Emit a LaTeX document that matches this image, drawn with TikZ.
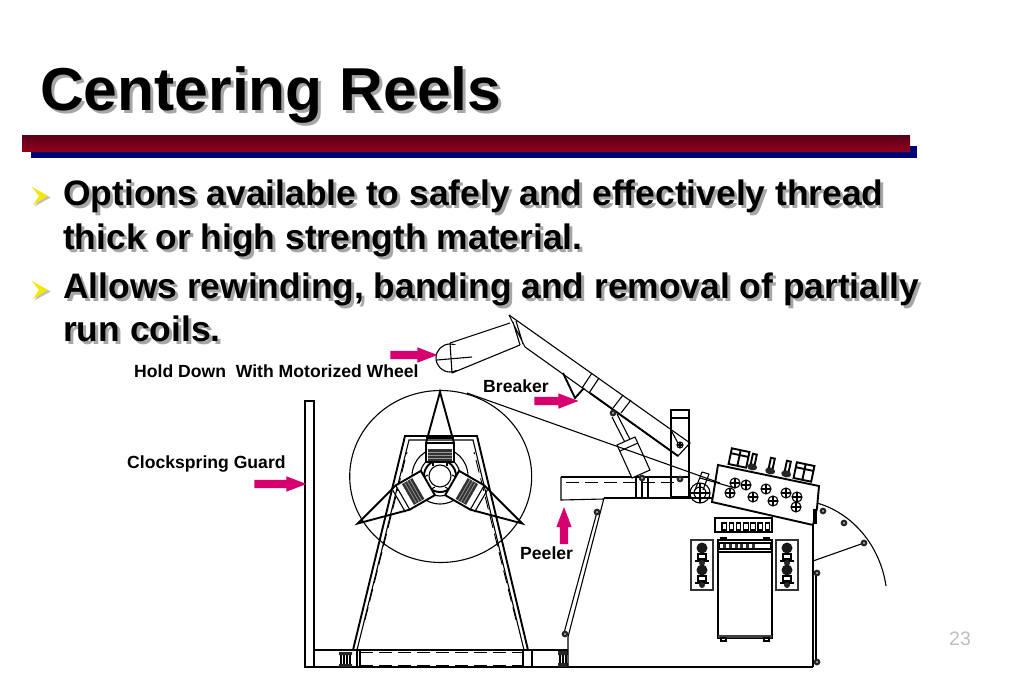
\documentclass[tikz,border=0pt]{standalone}
\usepackage{fontspec}
\setmainfont{Liberation Sans}
\usepackage{xcolor}
\usetikzlibrary{shapes.arrows,calc}
\definecolor{barred}{RGB}{128,0,32}
\definecolor{barnavy}{RGB}{0,0,120}
\definecolor{pinkfill}{RGB}{214,0,110}
\tikzset{
    shadowtext/.style={anchor=base west, inner sep=0pt, text=black!35},
    maintext/.style={anchor=base west, inner sep=0pt, text=black},
    partlabel/.style={anchor=base west, inner sep=0pt, font=\fontsize{17.6}{17.6}\selectfont\bfseries},
    pinkarrow/.style={single arrow, fill=pinkfill, inner sep=0pt, minimum width=15pt,
        single arrow head extend=3.5pt, single arrow tip angle=42},
    line/.style={line width=1.1pt},
    heavy/.style={line width=1.9pt},
    thinline/.style={line width=0.7pt},
    dashline/.style={line width=0.9pt, dash pattern=on 13pt off 6pt}
}
% text with a grey copy behind it
\newcommand{\shadowline}[5]{%
    \node[shadowtext, font=#4] (#1shadow) at ($(#2,#3)+(3,3)$) {#5};
    \node[maintext, font=#4] (#1) at (#2,#3) {#5};
}
\newcommand{\bolt}[3]{%
    \draw[line, fill=white] (#1,#2) circle (#3);
    \draw[line] ($(#1,#2)+(-#3,0)$) -- ($(#1,#2)+(#3,0)$) ($(#1,#2)+(0,-#3)$) -- ($(#1,#2)+(0,#3)$);
}
\newcommand{\darkbolt}[2]{\fill[black!85] (#1,#2) circle (3.4); \fill[white] (#1,#2) circle (0.9);}
\begin{document}
\begin{tikzpicture}[x=1pt,y=-1pt]
    \useasboundingbox (0,0) rectangle (1023,682);
    \fill[white] (0,0) rectangle (1023,682);

    % Title and bars
    \shadowline{title}{40}{111}{\fontsize{60.6}{60.6}\selectfont\bfseries}{Centering Reels}
    \fill[barnavy] (31,146) rectangle (917,158);
    \shade[top color=barred!70!black, bottom color=barred!85!red] (22,136) rectangle (910,152);

    % Bullets
    \foreach \by in {196,290}{
        \fill[black!25] ($(32,\by)+(1.5,-7.5)$) -- ($(49,\by)+(1.5,1.5)$) -- ($(33,\by)+(1.5,10.5)$) -- ($(39,\by)+(1.5,1.5)$) -- cycle;
        \fill[yellow!90!olive] (32,\by-9) -- (48,\by) -- (33,\by+9) -- (39,\by) -- cycle;
    }
    \shadowline{optionsa}{63}{205}{\fontsize{35.4}{35.4}\selectfont\bfseries}{Options available to safely and effectively thread}
    \shadowline{optionsb}{63}{249}{\fontsize{35.4}{35.4}\selectfont\bfseries}{thick or high strength material.}
    \shadowline{allowsa}{63}{298}{\fontsize{35.4}{35.4}\selectfont\bfseries}{Allows rewinding, banding and removal of partially}
    \shadowline{allowsb}{63}{341}{\fontsize{35.4}{35.4}\selectfont\bfseries}{run coils.}

    % Page number
    \node[anchor=base west, inner sep=0pt, text=black!25, font=\fontsize{19.5}{19.5}\selectfont] (pagenum) at (949,645) {23};

    % Clockspring guard and base
    \draw[line] (305,401) rectangle (314,667);
    \draw[line] (314,650) -- (568,650);
    \draw[line] (305,667) -- (813,667);
    \draw[dashline] (360,652) -- (523,652) (360,665) -- (523,665);
    \draw[line] (357,650) -- (357,667) (360,650) -- (360,667);
    \draw[line] (523,650) -- (523,667) (532,650) -- (532,667);
    \foreach \hx in {341,344,347,350}{\draw[line] (\hx,652) -- (\hx,667);}
    \foreach \hx in {560,563,566}{\draw[line] (\hx,652) -- (\hx,667);}
    \fill[black!85] (339,652) rectangle (352,655) (339,664) rectangle (352,667);
    \fill[black!85] (558,651) rectangle (568,655) (558,663) rectangle (568,667);

    % Stand
    \draw[heavy] (353,650) -- (405,436) -- (477,436) -- (528,650);
    \draw[line] (357,650) -- (409,440) -- (473,440) -- (524,650);
    \draw[dashline] (365,620) -- (407,452) (516,620) -- (474,452);

    % Coil and hub
    \draw[line] (440.7,476.5) ellipse (91 and 86);
    \draw[line] (440,476) circle (28);
    \draw[line] (440,476) circle (20);
    \draw[heavy] (440,476) circle (16);
    \fill[white] (440,476) circle (11);
    \draw[line] (440,476) circle (11);

    % Mandrel arms
    \foreach \ang/\tip/\bo in {0/-84/0,120/-95/10,240/-95/10}{
        \begin{scope}[rotate around={\ang:(440,476)}]
            \fill[white] (426,443-\bo) rectangle (454,462);
            \draw[heavy] (440,476+\tip) -- (426,443-\bo) -- (426,462) -- (454,462) -- (454,443-\bo) -- cycle;
            \draw[line] (426,438-\bo) -- (454,438-\bo) (426,443-\bo) -- (454,443-\bo);
            \fill[black!80] (428,449-\bo) rectangle (452,461-\bo);
            \foreach \bary in {452,455,458}{\draw[white!60!black, thinline] (428,\bary-\bo) -- (452,\bary-\bo);}
            \draw[line] (433,462) -- (433,466) (447,462) -- (447,466);
        \end{scope}
    }

    % Machine body
    \draw[line] (604,498) -- (568,637) -- (568,667);
    \draw[line] (604,498) -- (712,498);
    \draw[line] (813,525) -- (813,667);
    \draw[line] (597,512) -- (564,633);
    \darkbolt{597}{512}
    \darkbolt{565}{634}

    % Peeler table
    \draw[heavy] (561,477) -- (690,477);
    \draw[line] (561,477) -- (561,500) -- (604,499);
    \draw[dashline] (566,482) -- (680,482);
    \draw[line] (636,477) -- (636,498) (642,477) -- (642,498) (648,477) -- (648,498);

    % Post
    \draw[line] (671,410) rectangle (689,497);
    \draw[line] (671,418) -- (689,418);
    \draw[heavy] (671,477) -- (671,497);
    \darkbolt{642}{478}
    \darkbolt{680}{479}

    % Hold down arm
    \draw[line] (450,358) circle (14);
    \fill[white] (452,345) rectangle (470,370);
    \draw[line] (450,343) -- (452,373);
    \draw[line] (437,360) -- (472,357);
    \draw[line] (450,343) -- (510,323);
    \draw[line] (452,373) -- (520,345);
    \draw[line] (509,315) -- (525,347) (513,322) -- (520,345) (516,321) -- (523,344);
    \draw[line] (509,315) -- (690,443) -- (678,456) -- (525,347);
    \draw[heavy] (590,393) -- (678,456);
    \draw[line] (592,373) -- (582,388) (599,378) -- (589,393);
    \draw[line] (623,395) -- (613,408) (631,400) -- (621,413);
    \draw[line] (671,430) -- (680,447);
    \bolt{680}{445}{3}

    % Breaker
    \draw[heavy] (563,373) -- (575,398) -- (584,388);

    % Cylinder
    \draw[line] (612,417) -- (635,462) (617,414) -- (640,459);
    \fill[white] (617,445) -- (635,437) -- (650,470) -- (632,478) -- cycle;
    \draw[line] (617,445) -- (635,437) -- (650,470) -- (632,478) -- cycle;
    \draw[line] (620,451) -- (638,443);
    \darkbolt{613}{413}

    % Coil line
    \draw[line] (467,393) -- (720,483);
    \draw[line] (700,478) -- (735,488);

    % Feeder block
    \draw[heavy] (718,465) -- (819,486) -- (817,508) -- (813,525) -- (712,502) -- cycle;
    \draw[line] (817,508) -- (814,522);
    \foreach \rx/\ry in {735/483,746/485,766/489,786/493,797/497,730/493,753/497,773/501,796/507}{
        \bolt{\rx}{\ry}{5}
    }
    \foreach \ux/\uy in {739/458,804/472}{
        \draw[heavy, fill=white, shift={(\ux,\uy)}, rotate=-12] (-9,-8) rectangle (9,8) (0,-8) -- (0,8) (-9,-3) -- (9,-3);
    }
    \foreach \ux/\uy in {753/463,771/467,787/470}{
        \begin{scope}[shift={(\ux,\uy)}, rotate=-12]
            \draw[heavy] (-2,-9) rectangle (2,2);
            \fill[black!85] (0,4) ellipse (5 and 3.5);
        \end{scope}
    }

    % Roller at the feeder entry
    \draw[line] (700,493) circle (10);
    \draw[line] (700,493) circle (6);
    \draw[line] (690,493) -- (710,493) (700,483) -- (700,503);
    \draw[line] (702,472) -- (695,490) (709,474) -- (703,490) (702,472) -- (709,474);

    % Control box and cabinet
    \draw[heavy] (715,518) rectangle (772,532);
    \foreach \sqi in {0,...,6}{\draw[line] ({722+\sqi*7.2},523) rectangle ++(4.5,7);}
    \draw[heavy] (718,540) rectangle (772,638);
    \draw[line] (719,543) rectangle (771,549) (719,552) -- (771,552);
    \foreach \sqi in {0,...,5}{\fill[black!80] ({723+\sqi*5.8},544) rectangle ++(3,4);}
    \fill[black!75] (718,635) rectangle (772,638);
    \draw[line] (721,638) rectangle (726,641) (764,638) rectangle (769,641);
    \draw[line] (721,540) rectangle (726,538) (764,540) rectangle (769,538);

    % Side panels
    \foreach \px in {702,787}{
        \draw[line width=2.4pt, black!80] (\px-11,540) rectangle (\px+11,590);
        \draw[line] (\px,545) -- (\px,587);
        \foreach \py in {548,570}{
            \fill[black!90] (\px,\py) circle (5.5);
            \draw[line, fill=white] (\px-4,\py+6) rectangle (\px+4,\py+11);
            \draw[line] (\px-7,\py+13) -- (\px+7,\py+13);
            \fill[black!85] (\px,\py+15) circle (3);
        }
    }

    % Door on the right
    \draw[line] (813,561) -- (864,543);
    \draw[line] (813,572) -- (816,572) -- (816,662) -- (813,662);
    \darkbolt{817}{573}
    \darkbolt{817}{662}

    % Curved guard
    \draw[line] (817,503) .. controls (852,513) and (880,545) .. (886,586);
    \foreach \gx/\gy in {823/511,844/523,864/543}{\darkbolt{\gx}{\gy}}
    \draw[heavy] (814,510) rectangle (816,523);

    % Labels
    \node[partlabel] (holdlabel) at (134,377) {Hold Down~~With Motorized Wheel};
    \node[partlabel] (breakerlabel) at (483,392) {Breaker};
    \node[partlabel] (guardlabel) at (127,468) {Clockspring Guard};
    \node[partlabel] (peelerlabel) at (520,559) {Peeler};

    % Arrows
    \node[pinkarrow, minimum height=47pt] (holdarrow) at (408.5,355) {\rule{0pt}{8pt}};
    \node[pinkarrow, minimum height=44pt] (breakerarrow) at (551,401) {\rule{0pt}{8pt}};
    \node[pinkarrow, minimum height=52pt] (guardarrow) at (275,484) {\rule{0pt}{8pt}};
    \node[pinkarrow, minimum height=37pt, rotate=90] (peelerarrow) at (564,531) {\rule{0pt}{8pt}};
\end{tikzpicture}
\end{document}
